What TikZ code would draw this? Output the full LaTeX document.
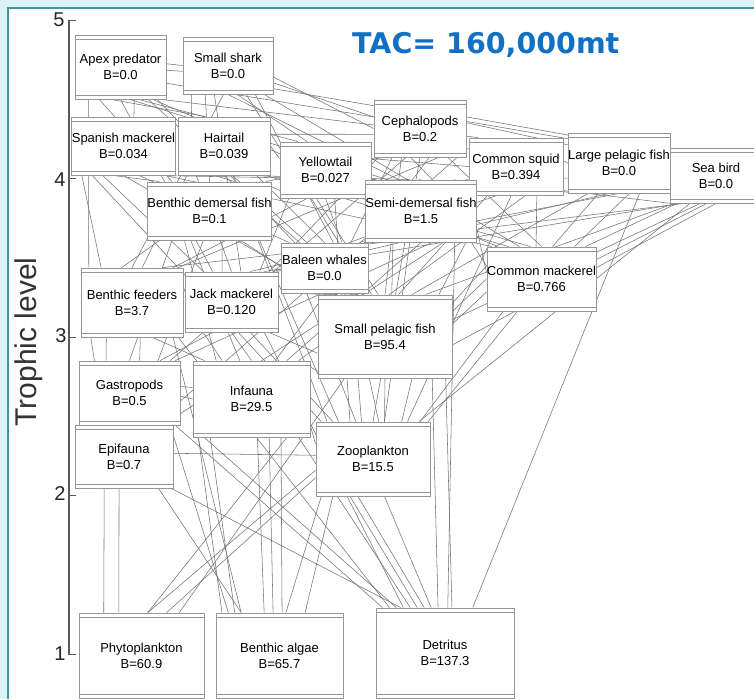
\documentclass[tikz,border=0pt]{standalone}
\usepackage{fontspec}
\setmainfont{Liberation Sans}
\newfontfamily\tacfont{DejaVu Sans}
\usetikzlibrary{calc}
\pgfdeclarelayer{bg}
\pgfdeclarelayer{lines}
\pgfsetlayers{bg,lines,main}
\definecolor{framebg}{RGB}{221,242,245}
\definecolor{frameteal}{RGB}{64,150,155}
\definecolor{tacblue}{RGB}{16,112,196}
\definecolor{boxgray}{RGB}{150,150,150}
\definecolor{lngray}{RGB}{115,115,115}
\tikzset{
  fwbox/.style={draw=boxgray, line width=0.9pt, fill=white, inner sep=0pt, align=center,
    font=\fontsize{13}{16}\selectfont,
    path picture={\draw[boxgray, line width=0.7pt]
      ([yshift=-4pt]path picture bounding box.north west) -- ([yshift=-4pt]path picture bounding box.north east)
      ([yshift=4pt]path picture bounding box.south west) -- ([yshift=4pt]path picture bounding box.south east);}},
  lnk/.style={draw=lngray, line width=0.55pt},
  ticklab/.style={font=\fontsize{20}{20}\selectfont, text=black!85, inner sep=0pt},
}
\newcommand\fwbx[6]{\node[fwbox, minimum width=#4pt, minimum height=#5pt] (#1) at (#2,#3) {#6};}
% bottom of #1 to top of #3
\newcommand\fwA[4]{\draw[lnk] ($(#1.south west)!#2!(#1.south east)$) -- ($(#3.north west)!#4!(#3.north east)$);}
% right side of #1 to left side of #3
\newcommand\fwR[4]{\draw[lnk] ($(#1.north east)!#2!(#1.south east)$) -- ($(#3.north west)!#4!(#3.south west)$);}
% bottom of #1 to left side of #3
\newcommand\fwX[4]{\draw[lnk] ($(#1.south west)!#2!(#1.south east)$) -- ($(#3.north west)!#4!(#3.south west)$);}
% bottom of #1 to right side of #3
\newcommand\fwB[4]{\draw[lnk] ($(#1.south west)!#2!(#1.south east)$) -- ($(#3.north east)!#4!(#3.south east)$);}
% left side of #1 to right side of #3
\newcommand\fwL[4]{\draw[lnk] ($(#1.north west)!#2!(#1.south west)$) -- ($(#3.north east)!#4!(#3.south east)$);}
% left side of #1 to top of #3
\newcommand\fwY[4]{\draw[lnk] ($(#1.north west)!#2!(#1.south west)$) -- ($(#3.north west)!#4!(#3.north east)$);}
\begin{document}
\begin{tikzpicture}[x=1pt,y=-1pt]
\useasboundingbox (0,0) rectangle (754,699);
\begin{pgfonlayer}{bg}
  \fill[framebg] (0,0) rectangle (754,699);
  \fill[white] (8,8) rectangle (754,699);
  \draw[frameteal, line width=2pt] (8,699) -- (8,8) -- (754,8);
\end{pgfonlayer}

% axis
\draw[black!65, line width=1.6pt] (69,20) -- (69,655);
\foreach \yy in {20,178,337,495,654} \draw[black!65, line width=1pt] (69,\yy) -- (76,\yy);
\node[ticklab] (t5) at (59,20) {5};
\node[ticklab] (t4) at (60,180) {4};
\node[ticklab] (t3) at (61,336) {3};
\node[ticklab] (t2) at (60,494) {2};
\node[ticklab] (t1) at (60,654) {1};
\node[rotate=90, font=\fontsize{30}{30}\selectfont, text=black!80, inner sep=0pt] (ylab) at (29,342) {Trophic level};

\node[anchor=base west, inner sep=0pt, text=tacblue, font=\tacfont\bfseries\fontsize{28.5}{30}\selectfont] (tac) at (352,53) {TAC= 160,000mt};

% boxes
\fwbx{AP}{120.5}{67}{91}{64}{Apex predator\\B=0.0}
\fwbx{SS}{228}{65.5}{90}{57}{Small shark\\B=0.0}
\fwbx{SM}{123.5}{146}{93}{58}{Spanish mackerel\\B=0.034}
\fwbx{HT}{224}{146}{92}{58}{Hairtail\\B=0.039}
\fwbx{YT}{325.5}{170}{91}{56}{Yellowtail\\B=0.027}
\fwbx{BD}{209.5}{211}{93}{58}{Benthic demersal fish\\B=0.1}
\fwbx{CP}{420}{128.5}{92}{57}{Cephalopods\\B=0.2}
\fwbx{CS}{516}{166.5}{94}{57}{Common squid\\B=0.394}
\fwbx{LP}{619}{163}{92}{60}{Large pelagic fish\\B=0.0}
\fwbx{SB}{716}{175.5}{92}{55}{Sea bird\\B=0.0}
\fwbx{SD}{421}{211}{102}{62}{Semi-demersal fish\\B=1.5}
\fwbx{BW}{324.5}{268}{87}{50}{Baleen whales\\B=0.0}
\fwbx{CM}{541.5}{279}{97}{64}{Common mackerel\\B=0.766}
\fwbx{BF}{132}{302.5}{102}{69}{Benthic feeders\\B=3.7}
\fwbx{JM}{231.5}{302}{93}{60}{Jack mackerel\\B=0.120}
\fwbx{SP}{385}{336.5}{134}{83}{Small pelagic fish\\B=95.4}
\fwbx{GA}{129.5}{393}{101}{64}{Gastropods\\B=0.5}
\fwbx{IN}{251.5}{399}{117}{76}{Infauna\\B=29.5}
\fwbx{EP}{124}{456.5}{98}{63}{Epifauna\\B=0.7}
\fwbx{ZO}{373}{459}{114}{74}{Zooplankton\\B=15.5}
\fwbx{PH}{141.5}{655.5}{125}{85}{Phytoplankton\\B=60.9}
\fwbx{BA}{279.5}{655.5}{127}{85}{Benthic algae\\B=65.7}
\fwbx{DE}{445}{653}{138}{90}{Detritus\\B=137.3}

\begin{pgfonlayer}{lines}
% Apex predator
\fwA{AP}{.15}{BF}{.08}
\fwA{AP}{.27}{BD}{.2}
\fwA{AP}{.4}{HT}{.3}
\fwA{AP}{.5}{JM}{.3}
\fwA{AP}{.6}{SD}{.2}
\fwA{AP}{.7}{YT}{.2}
\fwA{AP}{.8}{BW}{.3}
\fwA{AP}{.9}{SP}{.2}
\fwA{AP}{.95}{CS}{.1}
\fwA{AP}{.85}{CM}{.1}
\fwA{AP}{.65}{SM}{.6}
\fwR{AP}{.45}{SS}{.5}
\fwR{AP}{.55}{SS}{.6}
\fwR{AP}{.75}{CP}{.3}
% Small shark
\fwA{SS}{.1}{HT}{.15}
\fwA{SS}{.25}{BD}{.5}
\fwA{SS}{.35}{JM}{.6}
\fwA{SS}{.5}{SD}{.3}
\fwA{SS}{.6}{YT}{.3}
\fwA{SS}{.7}{SP}{.4}
\fwA{SS}{.8}{BW}{.6}
\fwA{SS}{.9}{CM}{.3}
\fwA{SS}{.45}{BF}{.5}
\fwR{SS}{.7}{CP}{.5}
\fwR{SS}{.8}{CS}{.2}
\fwR{SS}{.9}{LP}{.1}
% Spanish mackerel
\fwA{SM}{.1}{BF}{.2}
\fwA{SM}{.3}{JM}{.2}
\fwA{SM}{.5}{SP}{.1}
\fwA{SM}{.65}{BW}{.1}
\fwA{SM}{.8}{SD}{.1}
\fwA{SM}{.4}{BD}{.1}
\fwA{SM}{.9}{CM}{.05}
\fwA{SM}{.2}{ZO}{.05}
% Hairtail
\fwA{HT}{.1}{BF}{.6}
\fwA{HT}{.2}{JM}{.5}
\fwA{HT}{.4}{BD}{.7}
\fwA{HT}{.5}{SP}{.3}
\fwA{HT}{.6}{ZO}{.1}
\fwA{HT}{.7}{SD}{.4}
\fwA{HT}{.85}{BW}{.5}
\fwA{HT}{.95}{CM}{.2}
\fwR{HT}{.5}{YT}{.3}
\fwR{HT}{.3}{CP}{.6}
% Yellowtail
\fwA{YT}{.1}{JM}{.8}
\fwA{YT}{.2}{BD}{.9}
\fwA{YT}{.3}{BF}{.9}
\fwA{YT}{.4}{SP}{.45}
\fwA{YT}{.5}{BW}{.7}
\fwA{YT}{.6}{ZO}{.3}
\fwA{YT}{.7}{SD}{.5}
\fwA{YT}{.9}{CM}{.4}
\fwR{YT}{.3}{CS}{.5}
% Cephalopods
\fwA{CP}{.05}{JM}{.9}
\fwA{CP}{.1}{BD}{.95}
\fwA{CP}{.2}{BW}{.8}
\fwA{CP}{.3}{SP}{.5}
\fwA{CP}{.35}{GA}{.9}
\fwA{CP}{.4}{SD}{.6}
\fwA{CP}{.5}{ZO}{.5}
\fwA{CP}{.6}{IN}{.7}
\fwA{CP}{.7}{BF}{.95}
\fwA{CP}{.8}{CM}{.5}
\fwA{CP}{.9}{EP}{.8}
\fwR{CP}{.4}{LP}{.2}
\fwR{CP}{.3}{SB}{.1}
% Common squid
\fwA{CS}{.05}{JM}{.95}
\fwA{CS}{.1}{SD}{.8}
\fwA{CS}{.2}{SP}{.6}
\fwA{CS}{.3}{BW}{.9}
\fwA{CS}{.45}{ZO}{.8}
\fwA{CS}{.72}{CM}{.45}
\fwA{CS}{.6}{IN}{.9}
\fwR{CS}{.4}{LP}{.5}
\fwR{CS}{.7}{SB}{.6}
% Large pelagic fish
\fwA{LP}{.1}{SD}{.9}
\fwA{LP}{.2}{SP}{.7}
\fwA{LP}{.3}{CM}{.6}
\fwA{LP}{.5}{BW}{.95}
\fwA{LP}{.6}{CM}{.8}
\fwA{LP}{.7}{DE}{.7}
\fwA{LP}{.4}{JM}{.98}
% Sea bird
\fwA{SB}{.02}{SD}{.95}
\fwA{SB}{.05}{SP}{.8}
\fwA{SB}{.08}{CM}{.9}
\fwA{SB}{.12}{JM}{.85}
\fwA{SB}{.15}{BW}{.99}
\fwA{SB}{.22}{ZO}{.9}
\fwB{SB}{.33}{SP}{.3}
\fwB{SB}{.4}{CM}{.2}
\fwB{SB}{.5}{SP}{.6}
% Semi-demersal fish
\fwA{SD}{.05}{JM}{.7}
\fwA{SD}{.15}{BF}{.8}
\fwA{SD}{.25}{SP}{.55}
\fwA{SD}{.4}{ZO}{.6}
\fwA{SD}{.5}{IN}{.8}
\fwA{SD}{.6}{GA}{.95}
\fwA{SD}{.7}{EP}{.9}
\fwA{SD}{.8}{DE}{.52}
\fwA{SD}{.9}{SP}{.9}
\fwX{SD}{.95}{CM}{.3}
\fwR{SD}{.8}{CM}{.4}
% Benthic demersal fish
\fwA{BD}{.1}{BF}{.4}
\fwA{BD}{.2}{GA}{.5}
\fwA{BD}{.3}{IN}{.2}
\fwA{BD}{.35}{IN}{.4}
\fwA{BD}{.45}{EP}{.6}
\fwA{BD}{.6}{JM}{.4}
\fwA{BD}{.75}{SP}{.05}
\fwA{BD}{.9}{ZO}{.2}
% Baleen whales
\fwA{BW}{.3}{ZO}{.35}
\fwA{BW}{.6}{SP}{.3}
\fwA{BW}{.8}{ZO}{.55}
\fwA{BW}{.15}{SP}{.15}
% Common mackerel
\fwA{CM}{.15}{ZO}{.91}
\fwA{CM}{.28}{ZO}{.98}
\fwL{CM}{.5}{SP}{.2}
\fwL{CM}{.7}{SP}{.35}
\fwL{CM}{.3}{SP}{.1}
% Benthic feeders
\fwA{BF}{.25}{GA}{.27}
\fwA{BF}{.58}{GA}{.6}
\fwA{BF}{.7}{IN}{.1}
\fwA{BF}{.1}{EP}{.3}
\fwA{BF}{.9}{BA}{.2}
\fwA{BF}{.95}{DE}{.1}
% Jack mackerel
\fwA{JM}{.2}{IN}{.25}
\fwA{JM}{.5}{IN}{.5}
\fwA{JM}{.7}{ZO}{.15}
\fwX{JM}{.9}{SP}{.7}
\fwA{JM}{.3}{GA}{.8}
\fwA{JM}{.85}{DE}{.2}
% Small pelagic fish
\fwA{SP}{.1}{IN}{.9}
\fwA{SP}{.3}{ZO}{.4}
\fwA{SP}{.5}{ZO}{.6}
\fwA{SP}{.7}{ZO}{.75}
\fwA{SP}{.2}{PH}{.8}
\fwA{SP}{.95}{DE}{.55}
\fwA{SP}{.85}{DE}{.45}
% Gastropods
\fwR{GA}{.4}{IN}{.35}
\fwR{GA}{.55}{IN}{.5}
\fwA{GA}{.9}{BA}{.1}
\fwA{GA}{.95}{DE}{.05}
% Infauna
\fwA{IN}{.05}{BA}{.05}
\fwA{IN}{.15}{BA}{.15}
\fwA{IN}{.55}{BA}{.38}
\fwA{IN}{.65}{BA}{.45}
\fwA{IN}{.75}{BA}{.52}
\fwA{IN}{.8}{PH}{.55}
\fwA{IN}{.1}{DE}{.15}
\fwA{IN}{.9}{DE}{.25}
\fwR{IN}{.85}{ZO}{.3}
% Epifauna
\fwA{EP}{.3}{PH}{.2}
\fwA{EP}{.45}{PH}{.32}
\fwA{EP}{.85}{BA}{.2}
\fwA{EP}{.98}{DE}{.18}
\fwR{EP}{.45}{ZO}{.45}
% Zooplankton
\fwA{ZO}{.3}{DE}{.3}
\fwA{ZO}{.37}{DE}{.35}
\fwA{ZO}{.6}{DE}{.4}
\fwA{ZO}{.15}{BA}{.7}
\fwA{ZO}{.05}{BA}{.55}
\fwY{ZO}{.65}{PH}{.55}
\fwY{ZO}{.75}{PH}{.7}
\end{pgfonlayer}
\end{tikzpicture}
\end{document}
